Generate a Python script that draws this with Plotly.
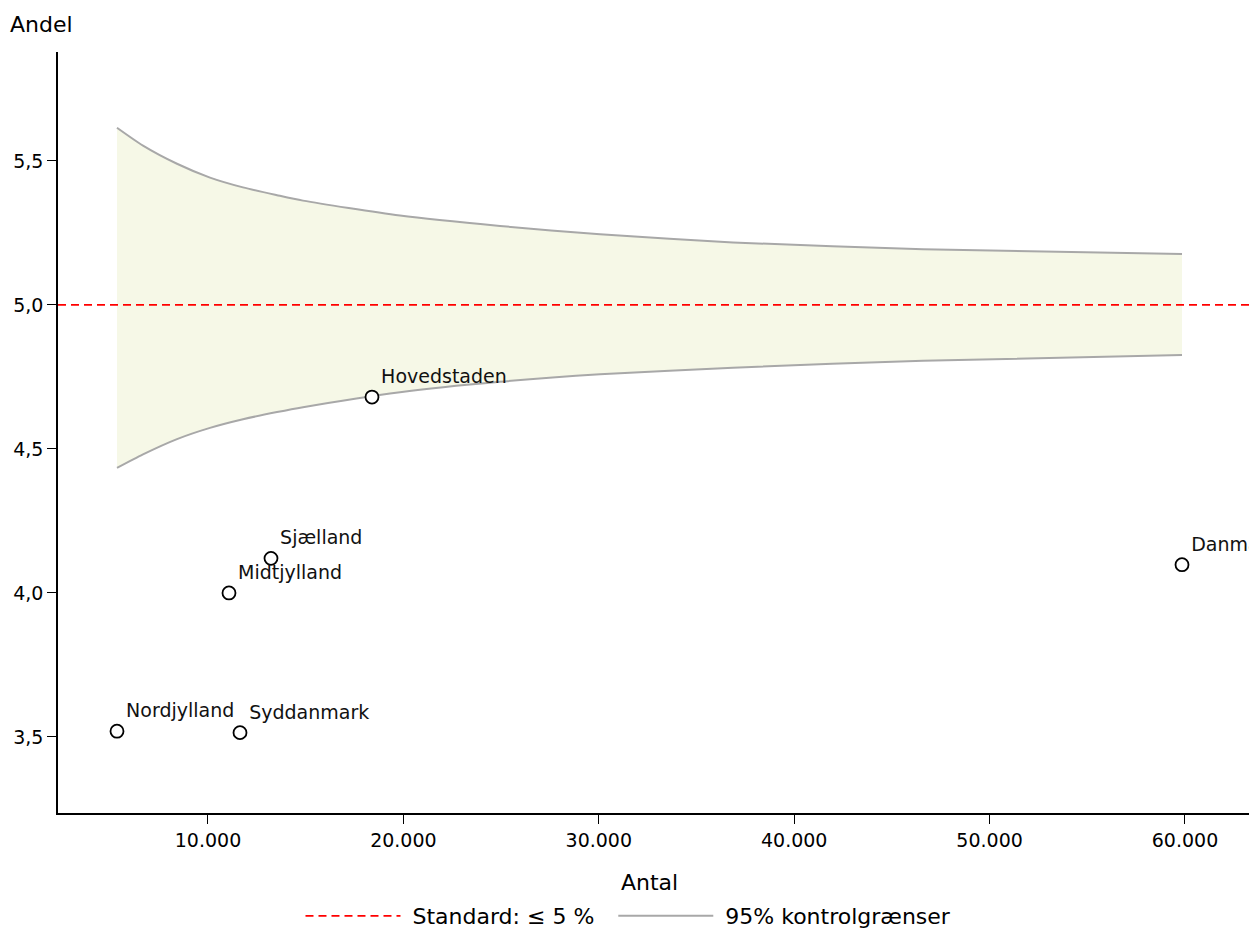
import plotly.graph_objects as go

# Regions: count (Antal) and share in percent (Andel)
regions = ["Nordjylland", "Syddanmark", "Midtjylland", "Sjælland", "Hovedstaden", "Danmark"]
antal = [5343, 11638, 11075, 13224, 18393, 59847]
andel = [3.52, 3.515, 4.0, 4.12, 4.68, 4.098]

# 95% control limits
limit_x = [5343, 6674, 8414, 10102, 11791, 13531, 14862, 19826, 24944, 30061, 36868, 46591, 59847]
limit_upper = [5.615, 5.553, 5.49, 5.442, 5.408, 5.381, 5.362, 5.31, 5.274, 5.245, 5.217, 5.193, 5.177]
limit_lower = [4.434, 4.481, 4.534, 4.573, 4.603, 4.628, 4.645, 4.697, 4.733, 4.759, 4.782, 4.806, 4.826]

standard = 5.0
x_range = [2324, 63276]
y_range = [3.236, 5.878]

FONT = "DejaVu Sans"
NB = "\u00a0"
SMOOTH = 0.7

fig = go.Figure()

# band fill
fig.add_trace(go.Scatter(x=limit_x, y=limit_lower, mode="lines",
                         line=dict(width=0, shape="spline", smoothing=SMOOTH),
                         showlegend=False, hoverinfo="skip"))
fig.add_trace(go.Scatter(x=limit_x, y=limit_upper, mode="lines",
                         line=dict(width=0, shape="spline", smoothing=SMOOTH),
                         fill="tonexty", fillcolor="#F6F8E7", showlegend=False, hoverinfo="skip"))

# standard line
fig.add_trace(go.Scatter(x=x_range, y=[standard, standard], mode="lines",
                         line=dict(color="#FF0000", width=1.8, dash="8px,5px"),
                         name=NB + "Standard: ≤ 5 %" + NB + NB))

# control limit lines
fig.add_trace(go.Scatter(x=limit_x, y=limit_upper, mode="lines",
                         line=dict(color="#A8A8A8", width=2, shape="spline", smoothing=SMOOTH),
                         name=NB + "95% kontrolgrænser", legendgroup="lim"))
fig.add_trace(go.Scatter(x=limit_x, y=limit_lower, mode="lines",
                         line=dict(color="#A8A8A8", width=2, shape="spline", smoothing=SMOOTH),
                         showlegend=False, legendgroup="lim"))

# points
fig.add_trace(go.Scatter(x=antal, y=andel, mode="markers+text", text=regions,
                         textposition="top right",
                         textfont=dict(family=FONT, size=19, color="#111111"),
                         marker=dict(symbol="circle", size=13, color="white",
                                     line=dict(color="black", width=1.8)),
                         showlegend=False, cliponaxis=True))

fig.update_layout(
    width=1249, height=930,
    margin=dict(l=58, r=0, t=52, b=117, autoexpand=False),
    paper_bgcolor="white", plot_bgcolor="white",
    font=dict(family=FONT, size=19, color="black"),
    separators=",.",
    xaxis=dict(range=x_range, tickmode="linear", tick0=10000, dtick=10000, tickformat=",d",
               showline=True, linecolor="black", linewidth=1.5, ticks="outside", ticklen=9,
               tickcolor="black", showgrid=False, zeroline=False, automargin=False),
    yaxis=dict(range=y_range, tickmode="linear", tick0=3.5, dtick=0.5, tickformat=".1f",
               showline=True, linecolor="black", linewidth=1.5, ticks="outside", ticklen=9,
               tickcolor="black", showgrid=False, zeroline=False, automargin=False),
    legend=dict(orientation="h", x=0.479, xanchor="center", yref="container", y=0.015, yanchor="middle",
                font=dict(size=22), itemwidth=95, bgcolor="rgba(0,0,0,0)"),
    annotations=[
        dict(text="Andel", xref="paper", yref="paper", x=-0.042, y=1.0355,
             xanchor="left", yanchor="middle", showarrow=False, font=dict(size=22)),
        dict(text="Antal", xref="paper", yref="paper", x=0.4965, y=-0.0907,
             xanchor="center", yanchor="middle", showarrow=False, font=dict(size=22)),
    ],
)

fig.write_html("out.html")
